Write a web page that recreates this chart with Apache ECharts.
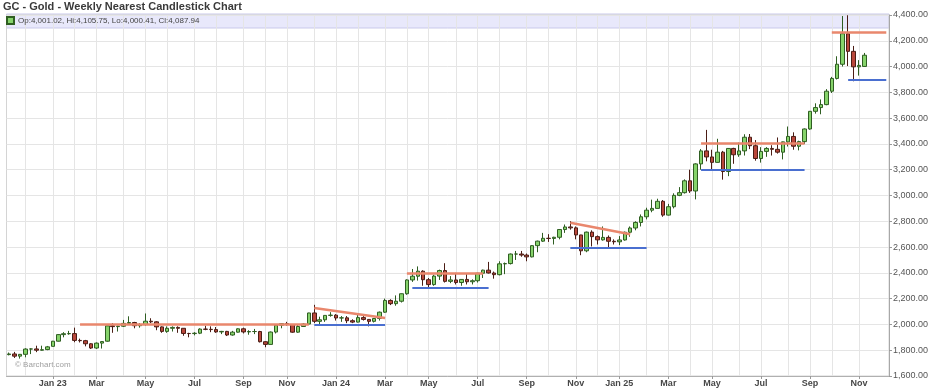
<!DOCTYPE html>
<html><head><meta charset="utf-8">
<script src="https://cdn.jsdelivr.net/npm/echarts@6/dist/echarts.min.js"></script>
<style>html,body{margin:0;padding:0;background:#fff}#c{width:934px;height:391px}</style>
</head><body><div id="c"></div>
<script>
const weeks = [
'2022-11-07','2022-11-14','2022-11-21','2022-11-28','2022-12-05','2022-12-12','2022-12-19','2022-12-26',
'2023-01-02','2023-01-09','2023-01-16','2023-01-23','2023-01-30','2023-02-06','2023-02-13','2023-02-20','2023-02-27',
'2023-03-06','2023-03-13','2023-03-20','2023-03-27','2023-04-03','2023-04-10','2023-04-17','2023-04-24',
'2023-05-01','2023-05-08','2023-05-15','2023-05-22','2023-05-29','2023-06-05','2023-06-12','2023-06-19','2023-06-26',
'2023-07-03','2023-07-10','2023-07-17','2023-07-24','2023-07-31','2023-08-07','2023-08-14','2023-08-21','2023-08-28',
'2023-09-04','2023-09-11','2023-09-18','2023-09-25','2023-10-02','2023-10-09','2023-10-16','2023-10-23','2023-10-30',
'2023-11-06','2023-11-13','2023-11-20','2023-11-27','2023-12-04','2023-12-11','2023-12-18','2023-12-25',
'2024-01-01','2024-01-08','2024-01-15','2024-01-22','2024-01-29','2024-02-05','2024-02-12','2024-02-19','2024-02-26',
'2024-03-04','2024-03-11','2024-03-18','2024-03-25','2024-04-01','2024-04-08','2024-04-15','2024-04-22','2024-04-29',
'2024-05-06','2024-05-13','2024-05-20','2024-05-27','2024-06-03','2024-06-10','2024-06-17','2024-06-24',
'2024-07-01','2024-07-08','2024-07-15','2024-07-22','2024-07-29','2024-08-05','2024-08-12','2024-08-19','2024-08-26',
'2024-09-02','2024-09-09','2024-09-16','2024-09-23','2024-09-30','2024-10-07','2024-10-14','2024-10-21','2024-10-28',
'2024-11-04','2024-11-11','2024-11-18','2024-11-25','2024-12-02','2024-12-09','2024-12-16','2024-12-23','2024-12-30',
'2025-01-06','2025-01-13','2025-01-20','2025-01-27','2025-02-03','2025-02-10','2025-02-17','2025-02-24',
'2025-03-03','2025-03-10','2025-03-17','2025-03-24','2025-03-31','2025-04-07','2025-04-14','2025-04-21','2025-04-28',
'2025-05-05','2025-05-12','2025-05-19','2025-05-26','2025-06-02','2025-06-09','2025-06-16','2025-06-23','2025-06-30',
'2025-07-07','2025-07-14','2025-07-21','2025-07-28','2025-08-04','2025-08-11','2025-08-18','2025-08-25',
'2025-09-01','2025-09-08','2025-09-15','2025-09-22','2025-09-29','2025-10-06','2025-10-13','2025-10-20','2025-10-27',
'2025-11-03','2025-11-10'
];
const emptyWeeks = ['2025-11-17','2025-11-24','2025-12-01','2025-12-08'];

const opens = [
1766,1771,1754,1768,1809,1810,1800,1805,
1830,1870,1921,1928,1929, 1876,1874,1850,1817, 1855,1870,1989,1983, 1986,2008,2015,1990, 1999,2025,2020,1981,1946, 1970,1977,1970,1930,
1929,1932,1964,1962,1960, 1942,1946,1918,1940, 1966,1942,1945,1945, 1866,1845,1941,1994,2006, 1999,1940,1984,2003, 2089,2024,2036,2070,
2072,2050,2051,2029,2018, 2053,2039,2024,2046, 2095,2186,2161,2180, 2238,2345,2374,2413,2347, 2309,2375,2418,2334, 2345,2325,2349,2331,
2339,2397,2421,2399,2386, 2470,2472,2546,2546, 2538,2524,2611,2646,2668, 2667,2676,2736,2756, 2749,2694,2571,2716, 2681,2656,2675,2645,2641,
2655,2715,2748,2791, 2835,2886,2900,2955, 2848,2913,3001,3022,3114, 3035,3245,3346,3299, 3257,3336,3186,3365, 3316,3346,3452,3386,3287,
3342,3365,3358,3336, 3416,3458,3382,3418, 3516,3653,3682,3705,3809, 3908,4018,4255,4118, 3998,4001.02
];
const highs = [
1782,1787,1770,1815,1815,1835,1835,1833,
1872,1925,1940,1950,1975, 1890,1880,1855,1860, 1870,1990,2010,1990, 2035,2063,2020,2010, 2085,2048,2025,1985,1985, 1985,1985,1972,1935,
1940,1970,1990,1985,1980, 1950,1950,1950,1970, 1975,1955,1965,1950, 1870,1945,2000,2010,2020, 1999,1995,2010,2090, 2152,2060,2070,2095,
2080,2065,2065,2040,2080, 2065,2040,2050,2100, 2200,2195,2225,2240, 2350,2430,2450,2420,2360, 2385,2425,2475,2375, 2400,2350,2390,2350,
2400,2425,2485,2410,2490, 2480,2550,2570,2570, 2550,2615,2650,2710,2700, 2680,2740,2775,2801, 2760,2695,2720,2730, 2690,2760,2690,2660,2685,
2720,2760,2800,2853, 2905,2968,2975,2965, 2935,3017,3065,3125,3200, 3250,3360,3509,3355, 3440,3346,3367,3370, 3410,3475,3477,3430,3375,
3375,3390,3450,3400, 3535,3490,3425,3520, 3655,3715,3745,3825,3920, 4080,4392,4398,4160, 4050,4105.75
];
const lows = [
1760,1740,1735,1745,1770,1785,1797,1800,
1830,1868,1900,1920,1862, 1860,1830,1810,1810, 1813,1866,1935,1945, 1980,1995,1970,1975, 1990,2010,1955,1935,1935, 1945,1935,1912,1900,
1915,1925,1955,1940,1935, 1925,1910,1913,1937, 1930,1920,1925,1860, 1823,1845,1930,1970,1990, 1935,1935,1980,2000, 2010,1990,2020,2060,
2030,2020,2010,2010,2015, 2030,1985,2015,2030, 2090,2150,2145,2170, 2230,2330,2340,2300,2285, 2300,2345,2325,2320, 2310,2300,2310,2310,
2325,2360,2395,2355,2380, 2390,2465,2500,2525, 2490,2520,2560,2640,2640, 2620,2660,2710,2735, 2660,2537,2560,2605, 2620,2650,2585,2620,2615,
2650,2680,2730,2760, 2815,2870,2900,2835, 2845,2900,2995,3015,3020, 2970,3200,3265,3205, 3255,3123,3150,3246, 3300,3310,3360,3270,3255,
3300,3310,3325,3280, 3380,3355,3350,3400, 3510,3635,3630,3700,3795, 3900,4000,4004,3886, 3930,4000.41
];
const closes = [
1771,1754,1768,1809,1810,1800,1804,1826,
1870,1921,1928,1929,1876, 1874,1850,1817,1855, 1867,1989,1983,1986, 2008,2015,1990,1999, 2025,2020,1981,1946,1970, 1977,1970,1930,1929,
1932,1964,1962,1960,1942, 1946,1918,1940,1966, 1942,1945,1945,1866, 1845,1941,1994,2006,1999, 1940,1984,2003,2089, 2024,2036,2070,2072,
2050,2051,2029,2018,2053, 2039,2024,2046,2095, 2186,2161,2180,2238, 2345,2374,2413,2347,2309, 2375,2418,2334,2345, 2325,2349,2331,2339,
2397,2421,2399,2386,2470, 2472,2546,2546,2538, 2524,2611,2646,2668,2667, 2676,2736,2756,2749, 2694,2571,2716,2681, 2656,2675,2645,2641,2655,
2715,2748,2791,2835, 2886,2900,2955,2848, 2913,3001,3022,3114,3035, 3245,3346,3299,3257, 3336,3186,3365,3316, 3346,3452,3386,3287,3342,
3365,3358,3336,3416, 3458,3382,3418,3516, 3653,3682,3705,3809,3908, 4018,4255,4118,3998, 4009,4087.94
];

// trend lines drawn on the chart: [startWeek, startPrice, endWeek, endPrice]
const resistanceLines = [
  ['2023-02-06', 2003, '2023-11-27', 2003],
  ['2023-12-04', 2127, '2024-03-04', 2049],
  ['2024-04-01', 2400, '2024-07-08', 2400],
  ['2024-10-28', 2789, '2025-01-13', 2700],
  ['2025-04-14', 3405, '2025-08-25', 3405],
  ['2025-09-29', 4263, '2025-12-08', 4263]
];
const supportLines = [
  ['2023-12-04', 2000, '2024-03-04', 2000],
  ['2024-04-08', 2285, '2024-07-15', 2285],
  ['2024-10-28', 2595, '2025-02-03', 2595],
  ['2025-04-14', 3198, '2025-08-25', 3198],
  ['2025-10-20', 3896, '2025-12-08', 3896]
];

const tickMonths = ['2023-01','2023-03','2023-05','2023-07','2023-09','2023-11','2024-01','2024-03','2024-05','2024-07','2024-09','2024-11','2025-01','2025-03','2025-05','2025-07','2025-09','2025-11'];
const tickLabels = ['Jan 23','Mar','May','Jul','Sep','Nov','Jan 24','Mar','May','Jul','Sep','Nov','Jan 25','Mar','May','Jul','Sep','Nov'];
const gridMonths = ['2022-12','2023-01','2023-02','2023-03','2023-04','2023-05','2023-06','2023-07','2023-08','2023-09','2023-10','2023-11','2023-12',
'2024-01','2024-02','2024-03','2024-04','2024-05','2024-06','2024-07','2024-08','2024-09','2024-10','2024-11','2024-12',
'2025-01','2025-02','2025-03','2025-04','2025-05','2025-06','2025-07','2025-08','2025-09','2025-10','2025-11'];
const yMin = 1600, yMax = 4400, yStep = 200;

const FONT = '"Liberation Sans", Arial, sans-serif';
const allWeeks = weeks.concat(emptyWeeks);
const weekTimes = allWeeks.map(d => Date.parse(d + 'T00:00:00Z'));
function nearestWeek(month) {
  const t = Date.parse(month + '-01T00:00:00Z');
  let best = 0, bd = Infinity;
  weekTimes.forEach((w, i) => { const d = Math.abs(w - t); if (d < bd) { bd = d; best = i; } });
  return best;
}
const labelAt = {};
tickMonths.forEach((m, i) => { labelAt[nearestWeek(m)] = tickLabels[i]; });
const gridAt = new Set(gridMonths.map(nearestWeek));

function fmt(v) { return Number(v).toLocaleString('en-US', {minimumFractionDigits: 2, maximumFractionDigits: 2}); }

const candles = weeks.map((w, i) => [opens[i], closes[i], lows[i], highs[i]]);
const last = weeks.length - 1;
const legendName = 'Op:' + fmt(opens[last]) + ', Hi:' + fmt(highs[last]) + ', Lo:' + fmt(lows[last]) + ', Cl:' + fmt(closes[last]);

const lineData = [];
resistanceLines.forEach(l => lineData.push([
  {coord: [l[0], l[1]], lineStyle: {color: '#e9876d', width: 2.5, type: 'solid'}},
  {coord: [l[2], l[3]]}
]));
supportLines.forEach(l => lineData.push([
  {coord: [l[0], l[1]], lineStyle: {color: '#4a6fd0', width: 2, type: 'solid'}},
  {coord: [l[2], l[3]]}
]));
lineData.push({
  yAxis: closes[last],
  lineStyle: {opacity: 0, width: 0},
  label: {show: true, position: 'end', distance: 3, formatter: () => fmt(closes[last]),
    backgroundColor: '#111', color: '#fff', fontSize: 8.5, fontFamily: FONT, padding: [1, 2, 0, 2]}
});

const chart = echarts.init(document.getElementById('c'), null, {renderer: 'canvas'});
chart.setOption({
  animation: false,
  backgroundColor: '#fff',
  title: {text: 'GC - Gold - Weekly Nearest Candlestick Chart', left: 2, top: 0, padding: [1, 0, 0, 1],
    textStyle: {fontSize: 11, fontWeight: 'bold', color: '#3a3a3a', fontFamily: FONT}},
  legend: {left: 6, top: 16, padding: 0, icon: 'rect', itemWidth: 7, itemHeight: 7, itemGap: 4,
    selectedMode: false, data: [legendName],
    textStyle: {fontSize: 8, color: '#444', fontFamily: FONT, padding: [0, 0, 0, -1]}},
  graphic: [
    {type: 'rect', z: -1, shape: {x: 6.5, y: 14, width: 882.5, height: 14},
      style: {fill: '#e8e8fb', stroke: '#c9c9ea', lineWidth: 1}},
    {type: 'text', left: 15, top: 361, z: 5,
      style: {text: '\u00a9 Barchart.com', fill: '#a0a0a0', font: '8px ' + FONT}}
  ],
  grid: {left: 6.5, right: 45, top: 15, bottom: 15, show: true, borderColor: '#d4d4d4', borderWidth: 1},
  xAxis: {
    type: 'category', data: allWeeks, boundaryGap: true,
    axisLine: {show: true, lineStyle: {color: '#b0b0b0'}},
    axisTick: {show: true, alignWithLabel: true, length: 3, interval: (i) => labelAt[i] !== undefined, lineStyle: {color: '#999'}},
    axisLabel: {interval: (i) => labelAt[i] !== undefined, formatter: (v, i) => labelAt[i] || '',
      fontSize: 9, fontWeight: 'bold', color: '#474747', margin: 3, fontFamily: FONT},
    splitLine: {show: true, alignWithLabel: true, interval: (i) => gridAt.has(i), lineStyle: {color: '#e5e5e5'}}
  },
  yAxis: {
    type: 'value', position: 'right', min: yMin, max: yMax, interval: yStep, scale: false,
    axisLine: {show: true, lineStyle: {color: '#a8a8a8'}},
    axisTick: {show: true, length: 3, lineStyle: {color: '#999'}},
    axisLabel: {formatter: fmt, fontSize: 9, color: '#555', margin: 4, fontFamily: FONT},
    splitLine: {show: true, lineStyle: {color: '#e5e5e5'}}
  },
  series: [{
    name: legendName, type: 'candlestick', data: candles, barWidth: 4,
    itemStyle: {color: '#86d36b', color0: '#b9473b', borderColor: '#2f5e22', borderColor0: '#4b1d15', borderWidth: 1},
    emphasis: {disabled: true},
    markLine: {silent: true, symbol: ['none', 'none'], animation: false, label: {show: false},
      emphasis: {disabled: true}, data: lineData}
  }]
});
</script>
</body></html>
